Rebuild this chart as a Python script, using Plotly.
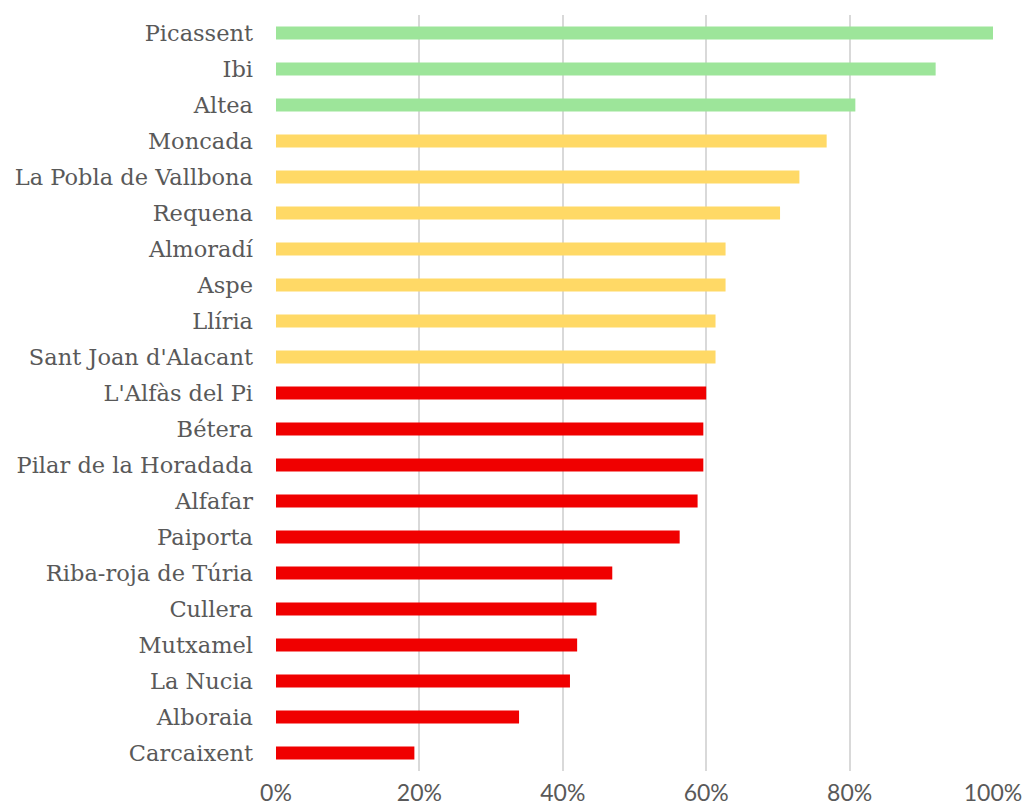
import plotly.graph_objects as go

# Municipalities, top to bottom
municipios = [
    "Picassent", "Ibi", "Altea", "Moncada", "La Pobla de Vallbona", "Requena",
    "Almoradí", "Aspe", "Llíria", "Sant Joan d'Alacant", "L'Alfàs del Pi",
    "Bétera", "Pilar de la Horadada", "Alfafar", "Paiporta", "Riba-roja de Túria",
    "Cullera", "Mutxamel", "La Nucia", "Alboraia", "Carcaixent",
]
valores = [
    1.000, 0.920, 0.808, 0.768, 0.730, 0.703,
    0.627, 0.627, 0.613, 0.613, 0.600,
    0.596, 0.596, 0.588, 0.563, 0.469,
    0.447, 0.420, 0.410, 0.339, 0.193,
]
grupos = ["alto"] * 3 + ["medio"] * 7 + ["bajo"] * 11

colores_grupo = {"alto": "#9DE59A", "medio": "#FFD966", "bajo": "#F00000"}
colores = [colores_grupo[g] for g in grupos]

ticks_x = [0, 0.2, 0.4, 0.6, 0.8, 1.0]
etiquetas_x = ["0%", "20%", "40%", "60%", "80%", "100%"]

fig = go.Figure(
    go.Bar(
        x=valores,
        y=municipios,
        orientation="h",
        marker=dict(color=colores, line=dict(width=0)),
        hoverinfo="x+y",
    )
)

fig.update_layout(
    width=1024,
    height=812,
    margin=dict(l=276, r=31, t=15, b=41),
    paper_bgcolor="white",
    plot_bgcolor="white",
    bargap=0.64,
    showlegend=False,
    font=dict(family="DejaVu Serif", size=22, color="#595959"),
)

fig.update_xaxes(
    range=[0, 1.0],
    tickvals=ticks_x,
    ticktext=etiquetas_x,
    showgrid=True,
    gridcolor="#D9D9D9",
    gridwidth=2,
    zeroline=False,
    showline=False,
    ticks="",
    automargin=False,
    ticklabelstandoff=6,
    tickfont=dict(family="Lato", size=23, color="#595959"),
)

fig.update_yaxes(
    categoryorder="array",
    categoryarray=municipios,
    autorange="reversed",
    showgrid=False,
    zeroline=False,
    showline=False,
    ticks="",
    automargin=False,
    ticklabelstandoff=22,
    tickfont=dict(family="DejaVu Serif", size=22.5, color="#595959"),
)

fig.write_html("out.html")
